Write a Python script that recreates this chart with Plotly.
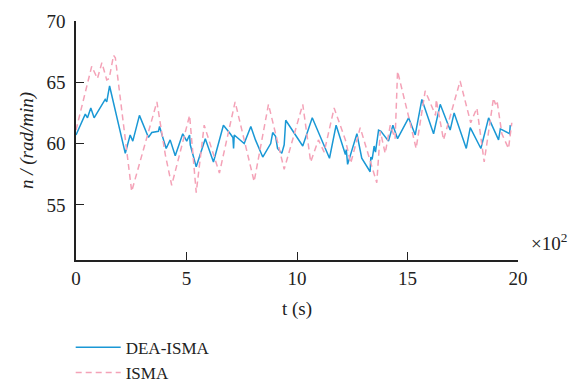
import plotly.graph_objects as go

# DEA-ISMA series (t in x10^2 s, n in rad/min)
dea_t = [0.00, 0.42, 0.52, 0.67, 0.82, 1.32, 1.39, 1.52, 2.23, 2.45, 2.57, 2.87, 3.28, 3.43,
         3.73, 3.78, 3.96, 4.08, 4.26, 4.49, 4.83, 5.01, 5.14, 5.17, 5.44, 5.85, 6.22, 6.67,
         6.98, 7.10, 7.13, 7.16, 7.61, 7.91, 8.12, 8.45, 8.81, 8.90, 9.03, 9.12, 9.31, 9.42,
         9.49, 10.26, 10.69, 11.47, 11.77, 12.19, 12.23, 12.29, 12.71, 12.93, 13.31, 13.34,
         13.40, 13.49, 13.55, 13.69, 13.80, 14.14, 14.34, 14.55, 15.05, 15.35, 15.65, 16.18,
         16.48, 16.93, 17.11, 17.66, 17.84, 18.32, 18.67, 19.12, 19.20, 19.62, 19.65]
dea_n = [60.7, 62.4, 62.1, 62.9, 62.1, 63.6, 63.4, 64.7, 59.2, 60.7, 60.2, 62.3, 60.5, 60.9,
         61.0, 61.4, 60.3, 59.6, 60.3, 59.0, 60.8, 60.2, 60.7, 59.9, 58.1, 60.4, 58.5, 61.5,
         60.8, 60.5, 59.6, 60.7, 60.0, 61.4, 60.3, 58.9, 60.0, 60.9, 60.6, 59.6, 59.2, 59.9,
         61.9, 59.8, 62.1, 58.8, 61.5, 59.1, 59.5, 58.3, 60.8, 58.8, 57.7, 58.9, 58.7, 59.8,
         59.3, 61.1, 61.0, 60.2, 61.5, 60.4, 62.1, 60.7, 63.6, 60.8, 63.2, 61.1, 62.5, 59.6,
         61.3, 59.6, 62.1, 60.3, 61.2, 60.8, 61.5]

# ISMA series
isma_t = [0.00, 0.71, 0.97, 1.17, 1.39, 1.50, 1.70, 1.78, 2.52, 3.66, 4.04, 4.33, 5.14, 5.44,
          5.80, 6.49, 7.20, 8.06, 8.71, 9.42, 10.26, 10.62, 10.97, 11.23, 11.68, 12.19, 12.43,
          12.86, 13.61, 13.77, 13.99, 14.22, 14.44, 14.55, 15.05, 15.39, 15.80, 16.27, 16.30,
          16.63, 17.38, 17.86, 18.14, 18.47, 18.89, 18.98, 19.05, 19.27, 19.57, 19.72]
isma_n = [61.1, 66.3, 65.3, 66.6, 65.2, 65.3, 67.2, 67.0, 56.1, 63.4, 59.1, 56.6, 62.3, 56.0,
          61.5, 57.6, 63.4, 56.9, 63.2, 57.9, 63.2, 58.5, 60.3, 59.3, 62.9, 60.3, 58.4,
          61.3, 56.8, 61.0, 59.2, 61.5, 60.4, 65.9, 62.2, 59.6, 64.3, 62.3, 63.6,
          60.3, 65.1, 61.7, 62.9, 58.5, 63.7, 63.2, 63.5, 60.8, 59.6, 61.7]

x_ticks = [0, 5, 10, 15, 20]
y_ticks = [55, 60, 65, 70]

FONT = "Liberation Serif"

fig = go.Figure()
fig.add_trace(go.Scatter(x=dea_t, y=dea_n, mode="lines", name="DEA-ISMA",
                         line=dict(color="#1a98d5", width=1.5)))
fig.add_trace(go.Scatter(x=isma_t, y=isma_n, mode="lines", name="ISMA",
                         line=dict(color="#f4a2b7", width=1.5, dash="6px,4px")))

fig.update_layout(
    width=583, height=387,
    margin=dict(l=76, r=65, t=21, b=127, autoexpand=False),
    paper_bgcolor="white", plot_bgcolor="white",
    font=dict(family=FONT, size=19, color="#222"),
    showlegend=True,
    legend=dict(x=-0.012, xanchor="left", y=-0.292, yanchor="top",
                font=dict(family=FONT, size=17), tracegroupgap=0,
                itemwidth=45, bgcolor="rgba(0,0,0,0)"),
    xaxis=dict(range=[0, 20], tickvals=x_ticks, ticks="inside", ticklen=8,
               showline=True, linecolor="#222", linewidth=1.5, tickcolor="#222",
               showgrid=False, zeroline=False,
               title=dict(text="t (s)", font=dict(family=FONT, size=19), standoff=14)),
    yaxis=dict(range=[50.5, 70], tickvals=y_ticks, ticks="inside", ticklen=8,
               ticklabelstandoff=5,
               showline=True, linecolor="#222", linewidth=1.5, tickcolor="#222",
               showgrid=False, zeroline=False,
               title=dict(text="<i>n / (rad/min)</i>", font=dict(family=FONT, size=19),
                          standoff=8)),
    annotations=[dict(text="×10<sup>2</sup>", xref="paper", yref="paper",
                      x=1.025, y=0.015, xanchor="left", yanchor="bottom",
                      showarrow=False, font=dict(family=FONT, size=19))],
)

fig.write_html("out.html")
